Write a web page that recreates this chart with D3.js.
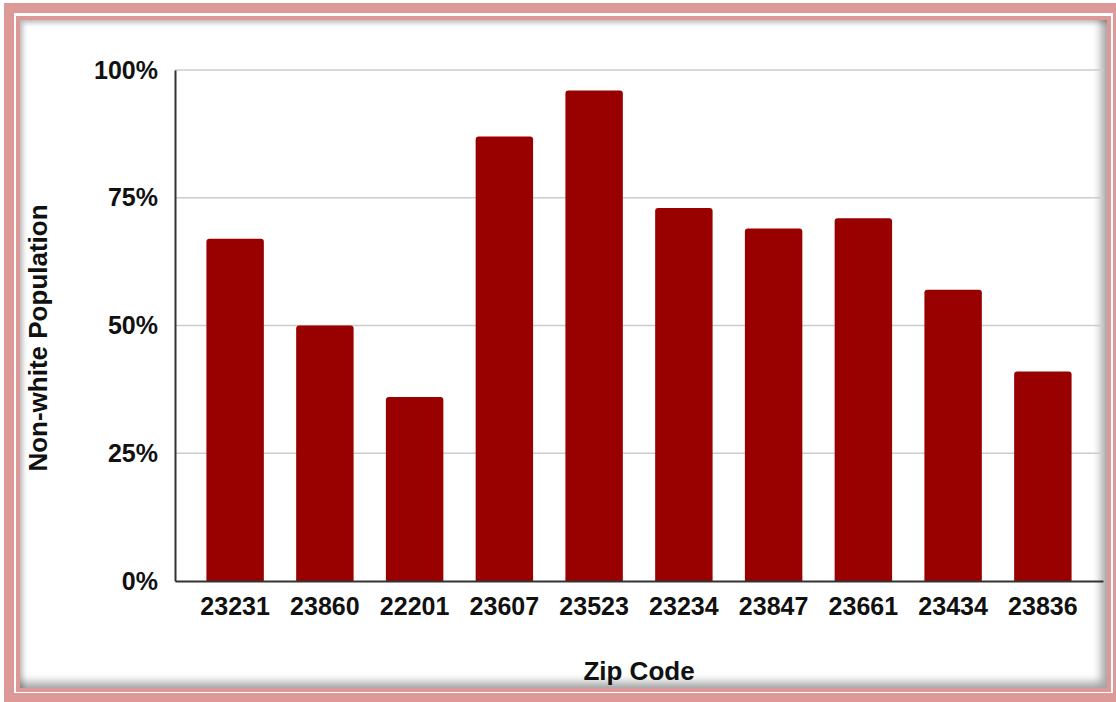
<!DOCTYPE html>
<html>
<head>
<meta charset="utf-8">
<script src="https://cdn.jsdelivr.net/npm/d3@7"></script>
<style>
  html, body { margin: 0; padding: 0; background: #fff; overflow: hidden; }
  body { width: 1116px; height: 702px; position: relative; font-family: "Liberation Sans", Arial, sans-serif; }
  .frame { position: absolute; box-sizing: border-box; }
  svg { position: absolute; left: 0; top: 0; }
  .tick text { font-weight: bold; fill: #111; }
</style>
</head>
<body>
<script>
// chart data
var zipCodes = ["23231", "23860", "22201", "23607", "23523", "23234", "23847", "23661", "23434", "23836"];
var nonWhite = [0.67, 0.50, 0.36, 0.87, 0.96, 0.73, 0.69, 0.71, 0.57, 0.41];
var yTicks = [0, 0.25, 0.5, 0.75, 1];

var W = 1116, H = 702;
var margin = {top: 70, right: 13, bottom: 121, left: 175},
    width = W - margin.left - margin.right,
    height = H - margin.top - margin.bottom;

var body = d3.select("body");

// outer pink frame (right edge runs a little off the page)
body.append("div").attr("class", "frame")
    .style("left", "4px").style("top", "3px")
    .style("width", "1119px").style("height", "700px")
    .style("border", "10px solid #dd9898");

// inner pink frame
body.append("div").attr("class", "frame")
    .style("left", "16px").style("top", "16px")
    .style("width", "1095px").style("height", "676px")
    .style("border", "4px solid #dd9898");

// white panel with inset shadow
body.append("div").attr("class", "frame")
    .style("left", "20px").style("top", "20px")
    .style("width", "1087px").style("height", "668px")
    .style("background", "#fff")
    .style("box-shadow", "inset 3px 3px 5px rgba(0,0,0,0.25), inset -6px -6px 8px rgba(0,0,0,0.35)");

var svg = body.append("svg")
    .attr("width", W)
    .attr("height", H);

var g = svg.append("g")
    .attr("transform", "translate(" + margin.left + "," + margin.top + ")");

var x = d3.scaleBand()
    .domain(zipCodes)
    .range([0, width])
    .paddingInner(0.36)
    .paddingOuter(0.35);

var y = d3.scaleLinear()
    .domain([0, 1])
    .range([height, 0]);

// gridlines
g.append("g")
    .selectAll("line")
    .data(yTicks.filter(function(d) { return d > 0; }))
    .enter().append("line")
    .attr("x1", 0)
    .attr("x2", width + 1)
    .attr("y1", function(d) { return y(d); })
    .attr("y2", function(d) { return y(d); })
    .attr("stroke", "#cccccc")
    .attr("stroke-width", 1.5);

// bars with slightly rounded tops
var r = 3;
g.append("g")
    .selectAll("path")
    .data(zipCodes)
    .enter().append("path")
    .attr("fill", "#990000")
    .attr("d", function(d, i) {
        var x0 = x(d), x1 = x(d) + x.bandwidth(), y0 = y(nonWhite[i]), yb = y(0);
        return "M" + x0 + "," + yb +
            "V" + (y0 + r) +
            "Q" + x0 + "," + y0 + " " + (x0 + r) + "," + y0 +
            "H" + (x1 - r) +
            "Q" + x1 + "," + y0 + " " + x1 + "," + (y0 + r) +
            "V" + yb + "Z";
    });

// y axis
var yAxis = g.append("g")
    .call(d3.axisLeft(y)
        .tickValues(yTicks)
        .tickFormat(d3.format(".0%"))
        .tickSize(0)
        .tickPadding(17));
yAxis.select(".domain").attr("stroke", "#333").attr("stroke-width", 2);
yAxis.selectAll(".tick text").style("font-size", "25px")
    .style("font-family", "'Liberation Sans', Arial, sans-serif");

// x axis
var xAxis = g.append("g")
    .attr("transform", "translate(0," + height + ")")
    .call(d3.axisBottom(x).tickSize(0).tickPadding(16));
xAxis.select(".domain").attr("stroke", "#333").attr("stroke-width", 2);
xAxis.selectAll(".tick text").style("font-size", "25px")
    .style("font-family", "'Liberation Sans', Arial, sans-serif");

// axis titles
svg.append("text")
    .attr("x", margin.left + width / 2)
    .attr("y", 680)
    .attr("text-anchor", "middle")
    .style("font-size", "26px")
    .style("font-weight", "bold")
    .style("fill", "#111")
    .text("Zip Code");

svg.append("text")
    .attr("transform", "translate(47,338) rotate(-90)")
    .attr("text-anchor", "middle")
    .style("font-size", "26px")
    .style("font-weight", "bold")
    .style("fill", "#111")
    .text("Non-white Population");
</script>
</body>
</html>
